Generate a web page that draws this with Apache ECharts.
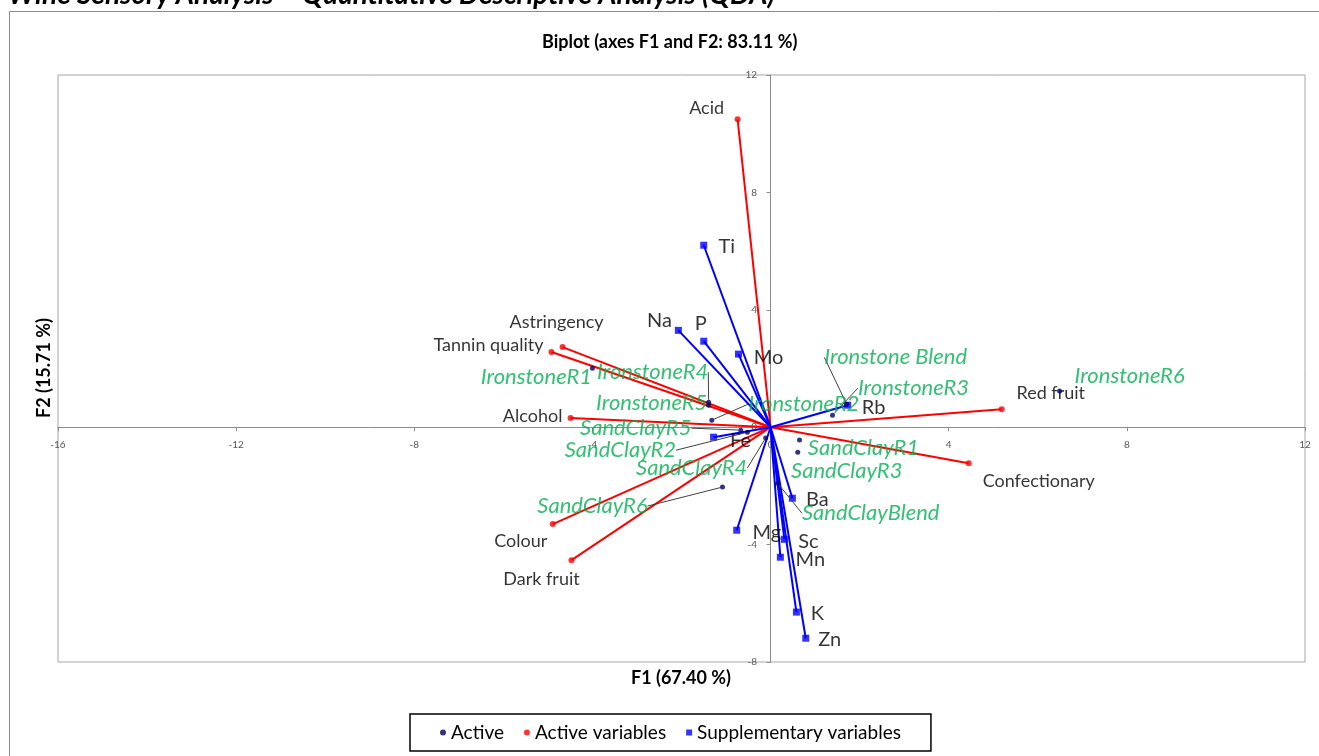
<!DOCTYPE html>
<html>
<head>
<meta charset="utf-8">
<title>Biplot (axes F1 and F2: 83.11 %)</title>
<script src="https://cdn.jsdelivr.net/npm/echarts@6/dist/echarts.min.js"></script>
<style>
  html, body { margin: 0; padding: 0; background: #fff; }
  #chart { width: 1319px; height: 756px; }
</style>
</head>
<body>
<div id="chart"></div>
<script>
// observations (Active)
const obsNames = ["IronstoneR1", "IronstoneR2", "IronstoneR3", "IronstoneR4", "IronstoneR5", "IronstoneR6", "Ironstone Blend",
  "SandClayR1", "SandClayR2", "SandClayR3", "SandClayR4", "SandClayR5", "SandClayR6", "SandClayBlend"];
const obsF1 = [-4.00, -1.32, 1.39, -1.39, -1.39, 6.49, 1.71, 0.65, -0.52, 0.61, -0.11, -0.67, -1.08, 0.16];
const obsF2 = [2.01, 0.24, 0.41, 0.85, 0.75, 1.23, 0.78, -0.44, -0.17, -0.85, -0.37, -0.10, -2.04, -1.91];

// active variables (sensory)
const actNames = ["Acid", "Astringency", "Tannin quality", "Alcohol", "Colour", "Dark fruit", "Red fruit", "Confectionary"];
const actF1 = [-0.74, -4.67, -4.92, -4.49, -4.89, -4.47, 5.19, 4.45];
const actF2 = [10.49, 2.73, 2.56, 0.31, -3.30, -4.53, 0.61, -1.23];

// supplementary variables (elements)
const supNames = ["Ti", "Na", "P", "Mo", "Rb", "Fe", "Ba", "Mg", "Sc", "Mn", "K", "Zn"];
const supF1 = [-1.50, -2.07, -1.50, -0.72, 1.73, -1.28, 0.49, -0.76, 0.31, 0.22, 0.58, 0.79];
const supF2 = [6.20, 3.30, 2.93, 2.49, 0.75, -0.34, -2.42, -3.51, -3.82, -4.43, -6.30, -7.19];

// label placement (pixel offsets from each point), leader line flag
const obsLabelPos = [[-56, 9, 0], [92, -16, 1], [81, -27, 1], [-56, -30, 1], [-57, -2, 0], [70, -15, 0], [49, -47, 1],
  [64, 8, 0], [-127, 18, 1], [49, 19, 0], [-74, 30, 1], [-105, -2, 1], [-130, 19, 1], [93, 30, 1]];
const actLabelPos = [[-31, -11], [-6, -25], [-63, -7], [-38, -2], [-32, 17], [-30, 19], [49, -16], [70, 18]];
const supLabelPos = [[23, 1], [-19, -10], [-3, -18], [30, 3], [26, 2], [27, 3], [25, 1], [30, 2], [24, 2], [30, 2], [21, 1], [24, 1]];

const FONT = "Lato, 'Open Sans', sans-serif";

const chart = echarts.init(document.getElementById("chart"));

function points(names, xs, ys, withLine) {
  return names.map((n, i) => ({
    name: n,
    value: [xs[i], ys[i]],
    labelLine: { show: !!(withLine && withLine[i] && withLine[i][2]) }
  }));
}
function vectors(xs, ys) {
  return xs.map((x, i) => ({ coords: [[0, 0], [x, ys[i]]] }));
}
function layoutFrom(pos) {
  return (p) => ({ dx: pos[p.dataIndex][0], dy: pos[p.dataIndex][1] });
}

const option = {
  animation: false,
  textStyle: { fontFamily: FONT },
  title: {
    text: "Biplot (axes F1 and F2: 83.11 %)",
    left: 537,
    top: 28,
    textStyle: { fontFamily: FONT, fontSize: 18, fontWeight: "bold", color: "#000" }
  },
  graphic: [
    { type: "rect", left: 7, top: 9, shape: { width: 1330, height: 770 }, style: { fill: null, stroke: "#8c8c8c", lineWidth: 1 }, silent: true },
    { type: "text", left: 8, top: -19, style: { text: "Wine Sensory Analysis – Quantitative Descriptive Analysis (QDA)", fontFamily: FONT, fontSize: 28, fontWeight: "bold", fontStyle: "italic", fill: "#000" } },
    { type: "text", x: 681, y: 678, style: { text: "F1 (67.40 %)", fontFamily: FONT, fontSize: 18, fontWeight: "bold", fill: "#000", align: "center", verticalAlign: "middle" } },
    { type: "text", x: 44, y: 368, rotation: Math.PI / 2, style: { text: "F2 (15.71 %)", fontFamily: FONT, fontSize: 18, fontWeight: "bold", fill: "#000", align: "center", verticalAlign: "middle" } }
  ],
  legend: {
    data: [
      { name: "Active", icon: "circle" },
      { name: "Active variables", icon: "circle" },
      { name: "Supplementary variables", icon: "rect" }
    ],
    left: 410,
    top: 714,
    padding: [9, 30, 9, 30],
    itemGap: 20,
    itemWidth: 6,
    itemHeight: 6,
    borderColor: "#000",
    borderWidth: 1.5,
    borderRadius: 0,
    backgroundColor: "#fff",
    textStyle: { fontFamily: FONT, fontSize: 19, color: "#000" }
  },
  grid: {
    left: 58, right: 14, top: 75, bottom: 94,
    show: true, borderColor: "#a6a6a6", borderWidth: 1, containLabel: false
  },
  xAxis: {
    type: "value", min: -16, max: 12, interval: 4,
    axisLine: { onZero: true, lineStyle: { color: "#8c8c8c", width: 1 } },
    axisTick: { show: true, length: 4, lineStyle: { color: "#8c8c8c" } },
    // labels sit under the zero line, as in the original
    axisLabel: { fontFamily: FONT, fontSize: 10, color: "#595959", margin: -222 },
    splitLine: { show: false }
  },
  yAxis: {
    type: "value", min: -8, max: 12, interval: 4,
    axisLine: { onZero: true, lineStyle: { color: "#8c8c8c", width: 1 } },
    axisTick: { show: true, length: 4, lineStyle: { color: "#8c8c8c" } },
    axisLabel: { fontFamily: FONT, fontSize: 10, color: "#595959", margin: -699 },
    splitLine: { show: false }
  },
  series: [
    {
      name: "Active variables vectors",
      type: "lines",
      coordinateSystem: "cartesian2d",
      silent: true,
      z: 2,
      lineStyle: { color: "#ff0000", width: 2, opacity: 1 },
      data: vectors(actF1, actF2)
    },
    {
      name: "Supplementary variables vectors",
      type: "lines",
      coordinateSystem: "cartesian2d",
      silent: true,
      z: 2,
      lineStyle: { color: "#0000ff", width: 2, opacity: 1 },
      data: vectors(supF1, supF2)
    },
    {
      name: "Active variables",
      type: "scatter",
      symbol: "circle",
      symbolSize: 6,
      z: 3,
      itemStyle: { color: "#ff0000" },
      label: { show: true, position: "inside", formatter: "{b}", fontFamily: FONT, fontSize: 18, color: "#000" },
      labelLayout: layoutFrom(actLabelPos),
      data: points(actNames, actF1, actF2)
    },
    {
      name: "Supplementary variables",
      type: "scatter",
      symbol: "rect",
      symbolSize: 7,
      z: 3,
      itemStyle: { color: "#0000ff" },
      label: { show: true, position: "inside", formatter: "{b}", fontFamily: FONT, fontSize: 20, color: "#000" },
      labelLayout: layoutFrom(supLabelPos),
      data: points(supNames, supF1, supF2)
    },
    {
      name: "Active",
      type: "scatter",
      symbol: "circle",
      symbolSize: 5,
      z: 4,
      itemStyle: { color: "#000066" },
      label: { show: true, position: "inside", formatter: "{b}", fontFamily: FONT, fontSize: 22, fontStyle: "italic", color: "#00b050" },
      labelLine: { show: false, lineStyle: { color: "#404040", width: 1 } },
      labelLayout: layoutFrom(obsLabelPos),
      data: points(obsNames, obsF1, obsF2, obsLabelPos)
    }
  ]
};

chart.setOption(option);
</script>
</body>
</html>
